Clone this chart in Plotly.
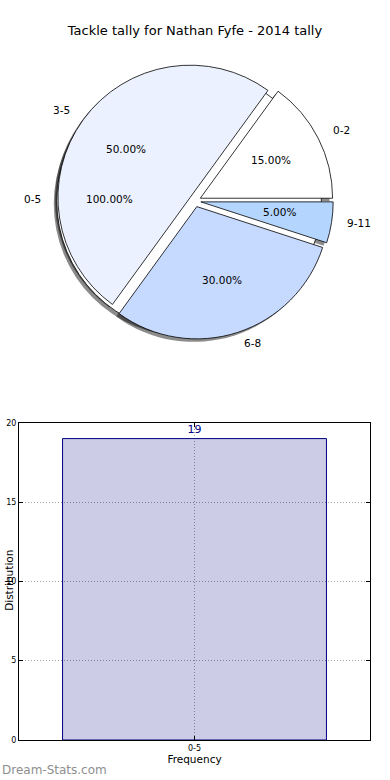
import math
import plotly.graph_objects as go

# ---- data ----
pie_labels = ["0-2", "3-5", "6-8", "9-11"]
pie_values = [3, 10, 6, 1]
pie_colors = ["#FFFFFF", "#EBF1FE", "#C6D9FE", "#B4D5FE"]
total_labels = ["0-5"]
total_values = [20]
bar_categories = ["0-5"]
bar_values = [19]
title_text = "Tackle tally for Nathan Fyfe - 2014 tally"

# ---- layout constants (pixels) ----
W, H = 390, 780
ML, MR, MT, MB = 19, 20, 0, 40
PW, PH = W - ML - MR, H - MT - MB
CX, CY, R = 195, 198, 133
PULL = 0.045
SH_DX, SH_DY = -3, 3
FONT = "DejaVu Sans"


def px_x(x):
    return (x - ML) / PW


def px_y(y):
    return (MT + PH - y) / PH


def domain(cx, cy, r, pull):
    h = r * (1 + pull)
    return dict(x=[px_x(cx - h), px_x(cx + h)], y=[px_y(cy + h), px_y(cy - h)])


# plotly places the first slice clockwise of `rotation` when direction is
# counterclockwise, so rotate so that the first slice begins at 3 o'clock
main_rot = 90 - 360 * pie_values[0] / sum(pie_values)

base = dict(sort=False, direction="counterclockwise",
            textinfo="none", showlegend=False, hoverinfo="label+percent")

fig = go.Figure()
# shadows
fig.add_trace(go.Pie(labels=total_labels, values=total_values, pull=PULL, rotation=90,
                     domain=domain(CX + SH_DX, CY + SH_DY, R, PULL),
                     marker=dict(colors=["rgba(0,0,0,0.45)"], line=dict(width=0)),
                     **base))
fig.add_trace(go.Pie(labels=pie_labels, values=pie_values, pull=PULL, rotation=main_rot,
                     domain=domain(CX + SH_DX, CY + SH_DY, R, PULL),
                     marker=dict(colors=["rgba(0,0,0,0.45)"] * len(pie_values), line=dict(width=0)),
                     **base))
# full 0-5 pie (underneath)
fig.add_trace(go.Pie(labels=total_labels, values=total_values, pull=PULL, rotation=90,
                     domain=domain(CX, CY, R, PULL),
                     marker=dict(colors=["#FFFFFF"], line=dict(color="#000000", width=0.8)),
                     **base))
# main pie
fig.add_trace(go.Pie(labels=pie_labels, values=pie_values, pull=PULL, rotation=main_rot,
                     domain=domain(CX, CY, R, PULL),
                     marker=dict(colors=pie_colors, line=dict(color="#000000", width=0.8)),
                     **base))

annotations = []


def pie_text(labels, values):
    tot = sum(values)
    start = 0.0
    for lab, v in zip(labels, values):
        frac = v / tot
        mid = math.radians((start + frac / 2) * 360)
        start += frac
        dx, dy = math.cos(mid), -math.sin(mid)
        off = PULL * R
        px = CX + (0.6 * R + off) * dx
        py = CY + (0.6 * R + off) * dy
        annotations.append(dict(x=px_x(px), y=px_y(py), xref="paper", yref="paper",
                                text=f"{frac * 100:.2f}%", showarrow=False,
                                font=dict(family=FONT, size=10.5, color="#000000"),
                                xanchor="center", yanchor="middle", yshift=2))
        lx = CX + (1.1 * R + off) * dx
        ly = CY + (1.1 * R + off) * dy
        annotations.append(dict(x=px_x(lx), y=px_y(ly), xref="paper", yref="paper",
                                text=lab, showarrow=False,
                                font=dict(family=FONT, size=10.5, color="#000000"),
                                xanchor="left" if dx > 0 else "right", yanchor="middle",
                                yshift=2))


pie_text(total_labels, total_values)
pie_text(pie_labels, pie_values)

# bar chart
fig.add_trace(go.Bar(x=bar_categories, y=bar_values, width=0.8,
                     marker=dict(color="rgba(0,0,128,0.2)", line=dict(color="#000080", width=1)),
                     text=[str(v) for v in bar_values], textposition="outside",
                     textfont=dict(family=FONT, size=11, color="#000080"),
                     cliponaxis=False, showlegend=False, xaxis="x", yaxis="y"))

annotations.append(dict(x=px_x(0), y=px_y(770), xref="paper", yref="paper",
                        text="Dream-Stats.com", showarrow=False,
                        font=dict(family=FONT, size=12, color="#8E8E8E"),
                        xanchor="left", yanchor="middle"))
annotations.append(dict(x=px_x(1), y=px_y(580), xref="paper", yref="paper",
                        text="Distribution", textangle=-90, showarrow=False,
                        font=dict(family=FONT, size=10.5, color="#000000"),
                        xanchor="left", yanchor="middle"))

axis_common = dict(showline=True, linecolor="#000000", linewidth=1, mirror="ticks",
                   ticks="inside", ticklen=4, tickcolor="#000000",
                   showgrid=True, gridcolor="#A0A0A0", griddash="1px,2px", gridwidth=1,
                   zeroline=False, tickfont=dict(family=FONT, size=8, color="#000000"))

fig.update_layout(
    width=W, height=H,
    margin=dict(l=ML, r=MR, t=MT, b=MB),
    paper_bgcolor="#FFFFFF", plot_bgcolor="#FFFFFF",
    title=dict(text=title_text, x=0.5, xref="container", y=1 - 30 / H, yref="container",
               xanchor="center", yanchor="middle",
               font=dict(family=FONT, size=13, color="#000000")),
    xaxis=dict(domain=[0, 1], type="category", range=[-0.532, 0.532],
               title=dict(text="Frequency", standoff=2,
                          font=dict(family=FONT, size=10.5, color="#000000")),
               **axis_common),
    yaxis=dict(domain=[0, px_y(421)], range=[0, 20], tickvals=[0, 5, 10, 15, 20],
               **axis_common),
    annotations=annotations,
    font=dict(family=FONT),
)

fig.write_html("out.html", config={"displayModeBar": False},
               post_script="document.body.style.margin='0';")
